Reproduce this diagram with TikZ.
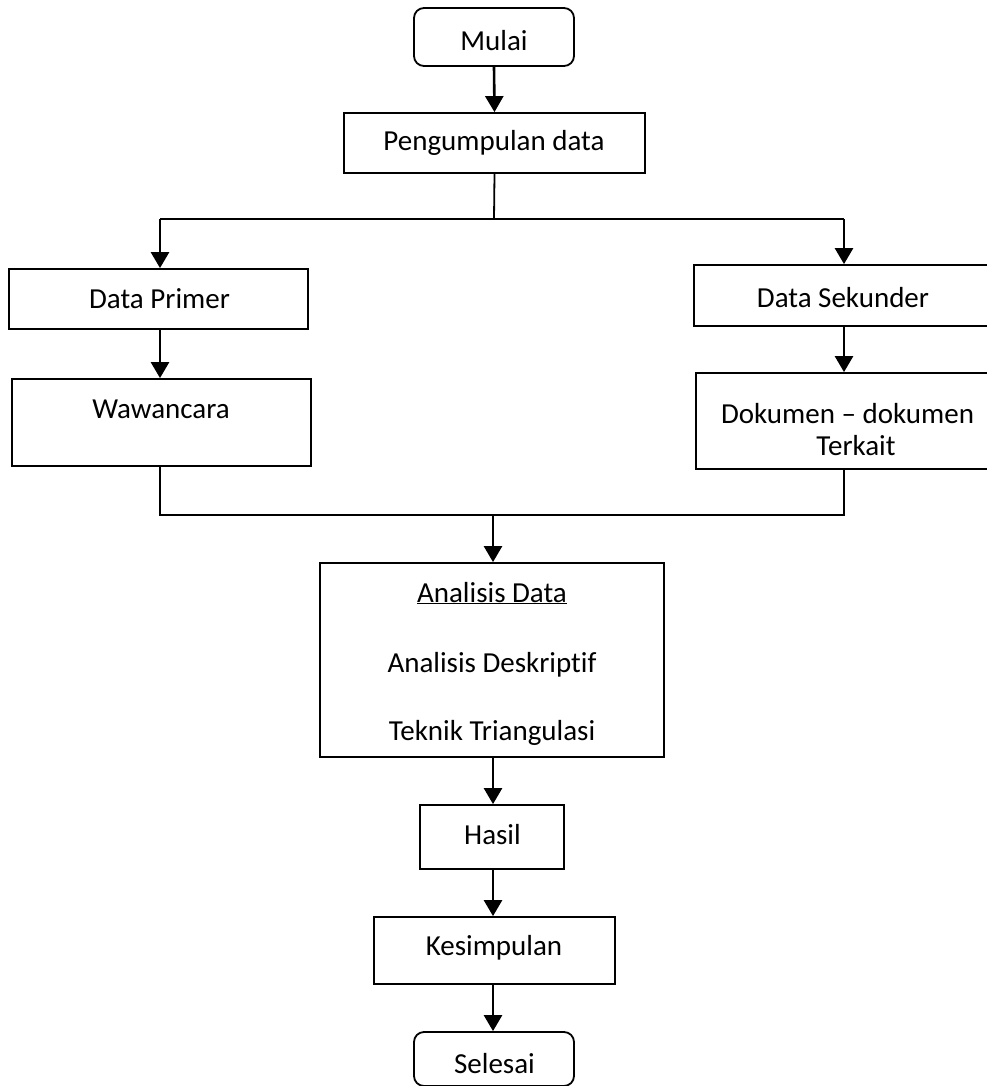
\documentclass[tikz,border=0pt]{standalone}
\usepackage{fontspec}
\setmainfont{Carlito}[Ligatures=NoCommon]
\usetikzlibrary{arrows.meta}
\begin{document}
\begin{tikzpicture}[x=1pt,y=-1pt,
  box/.style={draw, line width=1.8pt, inner sep=0pt},
  rbox/.style={box, rounded corners=10pt},
  txt/.style={font=\fontsize{29}{32}\selectfont, inner sep=0pt, align=center, anchor=base},
  arr/.style={line width=2.6pt, -{Triangle[length=16pt,width=18pt]}},
  ln/.style={line width=1.8pt}]
\useasboundingbox (0,0) rectangle (987,1086);

% boxes
\node[rbox, minimum width=160pt, minimum height=58pt] (mulai) at (494,37) {};
\node[box, minimum width=301pt, minimum height=60pt] (peng) at (494.5,143) {};
\node[box, minimum width=299pt, minimum height=60pt] (dp) at (158.5,299) {};
\node[box, minimum width=300pt, minimum height=61pt] (ds) at (844,295.5) {};
\node[box, minimum width=299pt, minimum height=87pt] (ww) at (161.5,422.5) {};
\node[box, minimum width=300pt, minimum height=96pt] (dk) at (846,421) {};
\node[box, minimum width=344pt, minimum height=194pt] (an) at (492,660) {};
\node[box, minimum width=144pt, minimum height=64pt] (hasil) at (492,837) {};
\node[box, minimum width=241pt, minimum height=67pt] (kes) at (494.5,950.5) {};
\node[rbox, minimum width=160pt, minimum height=54pt] (sel) at (494,1059) {};

% texts
\node[txt] (tmulai) at (494,51) {Mulai};
\node[txt] (tpeng) at (494,151) {Pengumpulan data};
\node[txt] (tdp) at (159.5,308) {Data Primer};
\node[txt] (tds) at (843,307) {Data Sekunder};
\node[txt] (tww) at (161,418) {Wawancara};
\node[txt] (tdk) at (856,455) {Dokumen -- dokumen\hspace*{17pt}\\Terkait};
\node[txt] (tan1) at (492,602) {\underline{Analisis Data}};
\node[txt] (tan2) at (492,672) {Analisis Deskriptif};
\node[txt] (tan3) at (492,740) {Teknik Triangulasi};
\node[txt] (thasil) at (492.5,844) {Hasil};
\node[txt] (tkes) at (494,955) {Kesimpulan};
\node[txt] (tsel) at (494.5,1073) {Selesai};

% connectors
\coordinate (split) at (494,219);
\coordinate (sl) at (160,219);
\coordinate (sr) at (844,219);
\coordinate (ml) at (160,515);
\coordinate (mr) at (844,515);
\coordinate (mm) at (493,515);

\draw[arr] (mulai.south) -- (peng.north);
\draw[ln] (peng.south) -- (split);
\draw[ln] (sl) -- (sr);
\draw[arr] (sl) -- (sl |- dp.north);
\draw[arr] (sr) -- (sr |- ds.north);
\draw[arr] (sl |- dp.south) -- (sl |- ww.north);
\draw[arr] (sr |- ds.south) -- (sr |- dk.north);
\draw[ln] (sl |- ww.south) -- (ml) -- (mr) -- (sr |- dk.south);
\draw[arr] (mm) -- (mm |- an.north);
\draw[arr] (mm |- an.south) -- (mm |- hasil.north);
\draw[arr] (mm |- hasil.south) -- (mm |- kes.north);
\draw[arr] (mm |- kes.south) -- (mm |- sel.north);
\end{tikzpicture}
\end{document}
